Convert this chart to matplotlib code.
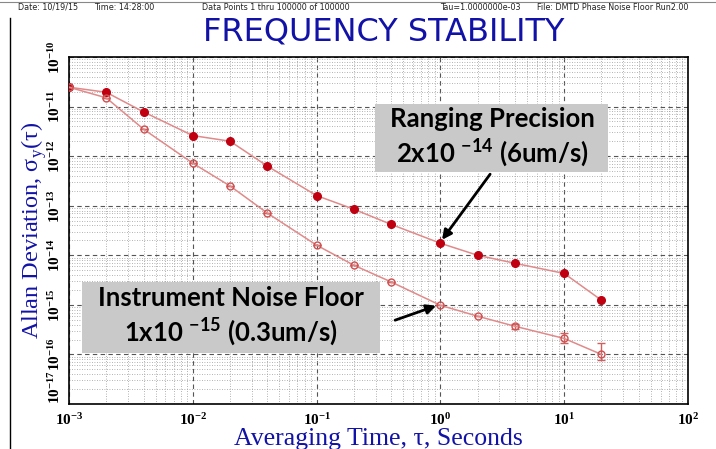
import matplotlib
matplotlib.use("Agg")
import matplotlib.pyplot as plt
from matplotlib.patches import Rectangle
from matplotlib.lines import Line2D
from matplotlib.ticker import FixedLocator, LogLocator, NullFormatter, LogFormatterSciNotation

# --- data ---
tau = [0.001, 0.002, 0.004, 0.01, 0.02, 0.04, 0.1, 0.2, 0.4, 1, 2, 4, 10, 20]
ranging_adev = [2.46e-11, 1.94e-11, 7.8e-12, 2.6e-12, 2.0e-12, 6.3e-13, 1.6e-13,
                8.5e-14, 4.2e-14, 1.75e-14, 1.0e-14, 6.9e-15, 4.3e-15, 1.24e-15]
floor_adev = [2.46e-11, 1.5e-11, 3.5e-12, 7.2e-13, 2.5e-13, 7.1e-14, 1.6e-14,
              6.3e-15, 2.9e-15, 9.8e-16, 5.9e-16, 3.7e-16, 2.1e-16, 1.0e-16]
floor_err_lo = [0, 0, 0, 0, 0, 0, 0, 0, 0, 0, 0, 0.45e-16, 0.36e-16, 0.24e-16]
floor_err_hi = [0, 0, 0, 0, 0, 0, 0, 0, 0, 0, 0, 0.5e-16, 0.65e-16, 0.74e-16]

x_decades = [1e-3, 1e-2, 1e-1, 1e0, 1e1, 1e2]
y_decades = [1e-17, 1e-16, 1e-15, 1e-14, 1e-13, 1e-12, 1e-11, 1e-10]

header_bits = [("Date: 10/19/15", 18), ("Time: 14:28:00", 94),
               ("Data Points 1 thru 100000 of 100000", 202),
               ("Tau=1.0000000e-03", 440),
               ("File: DMTD Phase Noise Floor Run2.00", 537)]

BLUE = "#1212a8"
LINE_RED = "#e08a8a"
DOT_RED = "#c00010"
BOX_GRAY = "#c9c9c9"

fig = plt.figure(figsize=(7.16, 4.49), dpi=100)
ax = fig.add_axes([69 / 716, 1 - 404 / 449, (688 - 69) / 716, (404 - 57) / 449])

ax.set_xscale("log")
ax.set_yscale("log")
ax.set_xlim(1e-3, 1e2)
ax.set_ylim(1e-17, 1e-10)

ax.plot(tau, ranging_adev, color=LINE_RED, lw=1.1, marker="o", ms=5.5,
        mfc=DOT_RED, mec=DOT_RED, zorder=4)
ax.errorbar(tau, floor_adev, yerr=[floor_err_lo, floor_err_hi], color=LINE_RED,
            lw=1.1, marker="o", ms=5, mfc="none", mec="#d05050", mew=1.0,
            ecolor="#d06060", elinewidth=1.0, capsize=3, zorder=4)

# grid: dashed decades, dotted minors
ax.xaxis.set_major_locator(FixedLocator(x_decades))
ax.yaxis.set_major_locator(FixedLocator(y_decades))
ax.xaxis.set_major_formatter(LogFormatterSciNotation())
ax.yaxis.set_major_formatter(LogFormatterSciNotation())
ax.xaxis.set_minor_locator(LogLocator(base=10, subs=range(2, 10), numticks=50))
ax.yaxis.set_minor_locator(LogLocator(base=10, subs=range(2, 10), numticks=50))
ax.xaxis.set_minor_formatter(NullFormatter())
ax.yaxis.set_minor_formatter(NullFormatter())
ax.grid(which="major", color="#555555", ls=(0, (4, 3)), lw=0.8)
ax.grid(which="minor", color="#999999", ls=(0, (1, 2)), lw=0.6)
ax.set_axisbelow(True)
for s in ax.spines.values():
    s.set_linewidth(1.2)
ax.tick_params(which="both", direction="in", length=0)

tick_font = dict(family="Liberation Serif", size=11, weight="bold")
for lab in ax.get_xticklabels():
    lab.set(**tick_font)
for lab in ax.get_yticklabels():
    lab.set(**tick_font)
ax.tick_params(axis="x", pad=6)
ax.tick_params(axis="y", pad=4)
plt.setp(ax.get_yticklabels(), rotation=90, va="center")
ax.get_yticklabels()[0].set_va("bottom")

ax.set_xlabel("Averaging Time, τ, Seconds", family="Liberation Serif",
              size=18.5, color=BLUE, labelpad=0)
ax.set_ylabel("Allan Deviation, σ$_\\mathdefault{y}$(τ)", family="Liberation Serif",
              size=17.5, color=BLUE, labelpad=-1)

# header
for txt, xp in header_bits:
    fig.text(xp / 716, 1 - 7.5 / 449, txt, family="DejaVu Sans", size=5.8,
             va="center", color="#222222")
fig.text(384 / 716, 1 - 41 / 449, "FREQUENCY STABILITY", family="DejaVu Sans",
         size=23, color=BLUE, ha="center", va="baseline")

# frame lines
fig.add_artist(Line2D([10 / 716, 10 / 716], [0, 1 - 18 / 449], color="black", lw=1))
fig.add_artist(Line2D([0, 1], [1 - 1.5 / 449, 1 - 1.5 / 449], color="#888888", lw=0.8))

# annotation boxes
box_font = dict(family="Lato", weight="bold", size=18.5, ha="center", va="center",
                linespacing=1.25, zorder=11)
fig.add_artist(Rectangle((375 / 716, 1 - 172 / 449), 233 / 716, 68 / 449,
                         transform=fig.transFigure, fc=BOX_GRAY, ec="none", zorder=10))
fig.text(492 / 716, 1 - 138 / 449,
         "Ranging Precision\n2x10 $\\mathdefault{^{-14}}$ (6um/s)", **box_font)
fig.add_artist(Rectangle((82 / 716, 1 - 353 / 449), 298 / 716, 71 / 449,
                         transform=fig.transFigure, fc=BOX_GRAY, ec="none", zorder=10))
fig.text(231 / 716, 1 - 317 / 449,
         "Instrument Noise Floor\n1x10 $\\mathdefault{^{-15}}$ (0.3um/s)", **box_font)

arrow = dict(arrowstyle="-|>", color="black", lw=2, mutation_scale=14)
ax.annotate("", xy=(1.0, 1.85e-14), xytext=(2.6, 4.8e-13), arrowprops=arrow, zorder=12)
ax.annotate("", xy=(0.97, 1.0e-15), xytext=(0.41, 4.7e-16), arrowprops=arrow, zorder=12)

fig.savefig("out.png", dpi=100)
